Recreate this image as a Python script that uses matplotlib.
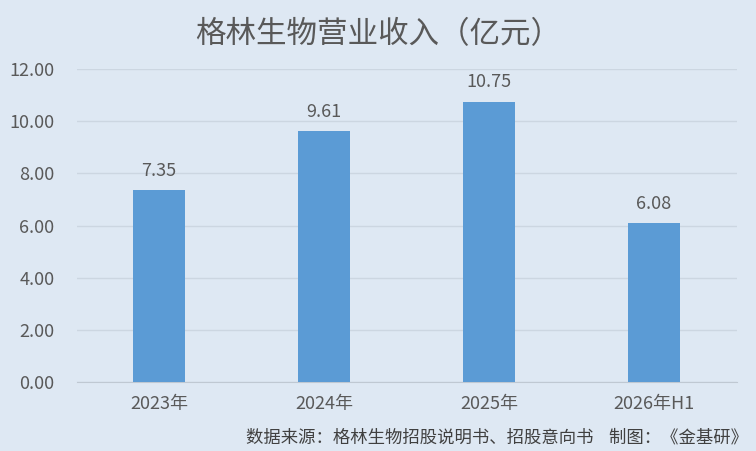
import matplotlib
matplotlib.use('Agg')
import matplotlib.pyplot as plt

plt.rcParams['font.family'] = ['Noto Sans CJK SC', 'DejaVu Sans']

categories = ['2023年', '2024年', '2025年', '2026年H1']
revenue = [7.35, 9.61, 10.75, 6.08]
y_ticks = [0, 2, 4, 6, 8, 10, 12]

bg = '#dee8f3'
bar_color = '#5b9bd5'
text_color = '#595959'

fig = plt.figure(figsize=(7.56, 4.51), dpi=100, facecolor=bg)
ax = fig.add_axes([76.5 / 756, 1 - 382 / 451, 660 / 756, 313 / 451], facecolor=bg)

x = range(len(categories))
bars = ax.bar(x, revenue, width=0.315, color=bar_color, zorder=3)
for b, v in zip(bars, revenue):
    ax.text(b.get_x() + b.get_width() / 2, v + 0.4, f'{v:.2f}',
            ha='center', va='bottom', fontsize=13, color=text_color)

ax.set_xlim(-0.5, len(categories) - 0.5)
ax.set_ylim(0, 12)
ax.set_yticks(y_ticks)
ax.set_yticklabels([f'{t:.2f}' for t in y_ticks], fontsize=13, color=text_color)
ax.set_xticks(list(x))
ax.set_xticklabels(categories, fontsize=13, color=text_color)
ax.tick_params(axis='both', length=0)
ax.tick_params(axis='y', pad=16)
ax.tick_params(axis='x', pad=9)
ax.grid(axis='y', color='#ccd6e1', linewidth=1, zorder=0)
for s in ['top', 'right', 'left']:
    ax.spines[s].set_visible(False)
ax.spines['bottom'].set_color('#bfc8d2')

fig.text(0.5, 1 - 35 / 451, '格林生物营业收入（亿元）', ha='center', va='center',
         fontsize=22, color=text_color)
fig.text(748 / 756, 1 - 438 / 451, '数据来源：格林生物招股说明书、招股意向书    制图：《金基研》',
         ha='right', va='center', fontsize=12.5, color='#404040')

fig.savefig('out.png', dpi=100, facecolor=bg)
